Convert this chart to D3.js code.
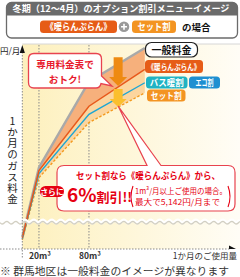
<!DOCTYPE html>
<html><head><meta charset="utf-8">
<script src="https://cdn.jsdelivr.net/npm/d3@7"></script>
<style>body{margin:0;background:#fff}svg{display:block}text{font-family:"Noto Sans CJK JP","Noto Sans",sans-serif}</style>
</head><body><svg id="c" width="240" height="277"></svg>
<script>
// ---- data (fee index; no numeric y axis in original) ----
const usage      = [0, 20, 80, 147];
const generalFee = [6, 40, 82, 98.5];
const danranFee  = [5.5, 38.5, 70, 88];
const bathFee    = [5, 37, 66, 81.5];
const setFee     = [4.5, 35, 62, 76.5];
const xTicks      = [20, 80];
const xTickLabels = ["20m³", "80m³"];
const xAxisTitle  = "1か月のご使用量";
const yAxisUnit   = "円/月";
const yAxisTitle  = "1か月のガス料金";
const titleText   = "冬期（12～4月）のオプション割引メニューイメージ";
const legendNames = ["一般料金", "《暖らんぷらん》", "バス暖割", "エコ割", "セット割"];
const footnote    = "※ 群馬地区は一般料金のイメージが異なります";

const svg = d3.select("#c");
const x = d3.scaleLinear().domain([0, 252]).range([22.3, 232.3]);
const y = d3.scaleLinear().domain([0, 100]).range([249, 45]);
const interp = s => d3.scaleLinear().domain(usage).range(s);

// ---- background ----
const defs = svg.append("defs");
const g1 = defs.append("linearGradient").attr("id","bg").attr("x1","0").attr("x2","1");
g1.append("stop").attr("offset","0").attr("stop-color","#fdf0bd");
g1.append("stop").attr("offset","1").attr("stop-color","#fffdf6");
svg.append("rect").attr("x",x(0)).attr("y",44).attr("width",240-x(0)).attr("height",249-44).attr("fill","url(#bg)");
svg.append("line").attr("x1",x(0)).attr("x2",240).attr("y1",44).attr("y2",44).attr("stroke","#d6d6d6").attr("stroke-width",1);

// dotted gridlines
svg.selectAll(".vg").data(xTicks).join("line")
  .attr("x1",d=>x(d)).attr("x2",d=>x(d)).attr("y1",45).attr("y2",249)
  .attr("stroke","#8a8a8a").attr("stroke-width",1).attr("stroke-dasharray","1.5,1.5");

// ---- bands ----
const pts = (hi, lo) => usage.map((u,i)=>({u, hi:hi[i], lo:lo[i]}));
const area = d3.area().x(d=>x(d.u)).y0(d=>y(d.lo)).y1(d=>y(d.hi));
svg.append("path").attr("d",area(pts(generalFee,danranFee))).attr("fill","#f6b07c");
svg.append("path").attr("d",area(pts(danranFee,setFee))).attr("fill","#fcd59e");

// ---- lines ----
const line = d3.line().x(d=>x(d.u)).y(d=>y(d.v));
const ser = s => usage.map((u,i)=>({u, v:s[i]}));
svg.append("path").attr("d",line(ser(generalFee))).attr("fill","none").attr("stroke","#a9a9a9").attr("stroke-width",2.4);
svg.append("path").attr("d",line(ser(setFee))).attr("fill","none").attr("stroke","#f39a1e").attr("stroke-width",1.4).attr("stroke-dasharray","2.5,1.8");
svg.append("path").attr("d",line(ser(bathFee))).attr("fill","none").attr("stroke","#1ea6d3").attr("stroke-width",1.4);
svg.append("path").attr("d",line(ser(danranFee))).attr("fill","none").attr("stroke","#e8581a").attr("stroke-width",1.5);

// ---- arrows ----
const au = 115, ax = x(au);
function arrow(top, tip, sw, hw, hh, col){
  const p = [[ax-sw/2,top],[ax+sw/2,top],[ax+sw/2,tip-hh],[ax+hw/2,tip-hh],[ax,tip],[ax-hw/2,tip-hh],[ax-sw/2,tip-hh]];
  svg.append("path").attr("d","M"+p.join("L")+"Z").attr("fill",col);
}
const gTop = y(interp(generalFee)(au)), oY = y(interp(danranFee)(au)), sY = y(interp(setFee)(au));
arrow(gTop-7, oY-1, 9, 18, 9, "#ee8a12");
arrow(oY+2, sY, 9, 17, 8, "#fbbf2e");

// ---- wavy break ----
const wave = d3.range(0, 241, 1).map(t=>[t, 221.5 + 1.3*Math.sin(t/9*2*Math.PI)]);
svg.append("path").attr("d",d3.line()(wave)).attr("fill","none").attr("stroke","#fff").attr("stroke-width",3.5);
svg.append("path").attr("d",d3.line()(wave.map(d=>[d[0],d[1]+1.2]))).attr("fill","none").attr("stroke","#d2cfc2").attr("stroke-width",1.3);

// ---- axes ----
svg.append("line").attr("x1",x(0)).attr("x2",x(0)).attr("y1",52).attr("y2",258)
  .attr("stroke","#8a8a8a").attr("stroke-dasharray","1.5,1.5");
svg.append("path").attr("d",`M${x(0)},45L${x(0)-2.6},53L${x(0)+2.6},53Z`).attr("fill","#111");
svg.append("line").attr("x1",0).attr("x2",231).attr("y1",249).attr("y2",249)
  .attr("stroke","#8a8a8a").attr("stroke-dasharray","1.5,1.5");
svg.append("path").attr("d","M229,245.5L236,249L229,249Z").attr("fill","#111");

svg.selectAll(".xl").data(xTicks).join("text")
  .attr("x",d=>x(d)+1).attr("y",259).attr("text-anchor","middle")
  .attr("font-size",8.5).attr("font-weight",700).attr("fill","#333").text((d,i)=>xTickLabels[i]);
svg.append("text").attr("x",237).attr("y",259).attr("text-anchor","end").attr("font-size",8.5).attr("fill","#333").text(xAxisTitle);
svg.append("text").attr("x",0).attr("y",53.5).attr("font-size",8.5).attr("fill","#222").text(yAxisUnit);
svg.append("text").attr("x",12.5).attr("y",116).attr("font-size",10.5).attr("fill","#222")
  .style("writing-mode","vertical-rl").style("text-orientation","upright")
  .attr("textLength",88).attr("lengthAdjust","spacing").text(yAxisTitle);

// ---- header ----
defs.append("clipPath").attr("id","hc").append("rect").attr("x",6.5).attr("y",2.5).attr("width",231).attr("height",35.5).attr("rx",5);
svg.append("rect").attr("x",6.5).attr("y",2.5).attr("width",231).attr("height",35.5).attr("rx",5).attr("fill","#fff");
svg.append("rect").attr("x",6).attr("y",2).attr("width",232).attr("height",13.5).attr("fill","#6b6b6b").attr("clip-path","url(#hc)");
svg.append("rect").attr("x",6.5).attr("y",2.5).attr("width",231).attr("height",35.5).attr("rx",5).attr("fill","none").attr("stroke","#6b6b6b").attr("stroke-width",1.3);
svg.append("text").attr("x",121).attr("y",12.4).attr("text-anchor","middle").attr("font-size",9).attr("font-weight",700)
  .attr("fill","#fff").attr("textLength",217).attr("lengthAdjust","spacingAndGlyphs").text(titleText);
function pill(x0,y0,w,h,fill,txt,fs,tl,stroke){
  svg.append("rect").attr("x",x0).attr("y",y0).attr("width",w).attr("height",h).attr("rx",3.5).attr("fill",fill)
    .attr("stroke",stroke||"none").attr("stroke-width",stroke?1.2:0);
  const t = svg.append("text").attr("x",x0+w/2).attr("y",y0+h/2+fs*0.36).attr("text-anchor","middle")
    .attr("font-size",fs).attr("font-weight",700).attr("fill",stroke?"#111":"#fff").text(txt);
  if(tl) t.attr("textLength",tl).attr("lengthAdjust","spacingAndGlyphs");
}
pill(40,20.5,77,12.5,"#e65c17",legendNames[1],9.5,66);
svg.append("circle").attr("cx",124).attr("cy",26.8).attr("r",5.3).attr("fill","#999");
svg.append("path").attr("d","M121,26.8H127M124,23.8V29.8").attr("stroke","#fff").attr("stroke-width",1.6);
pill(132,20.5,44,12.5,"#f39422",legendNames[4],9.5,33);
svg.append("text").attr("x",182).attr("y",30.5).attr("font-size",9.5).attr("font-weight",700).attr("fill","#111").text("の場合");

// ---- legend at line ends ----
svg.append("rect").attr("x",145.5).attr("y",42.5).attr("width",52).attr("height",14.5).attr("rx",6).attr("fill","#fff").attr("stroke","#222").attr("stroke-width",1.2);
svg.append("text").attr("x",171.5).attr("y",53.8).attr("text-anchor","middle").attr("font-size",10).attr("font-weight",700).attr("fill","#111").text(legendNames[0]);
pill(145,60,58,13,"#e65c17",legendNames[1],8.5,53);
pill(146,76.5,41.5,12,"#1fb3c3",legendNames[2],8.8,34);
pill(189,76.5,31,12,"#1e8fd1",legendNames[3],8.8,18);
pill(147,89.5,38.5,12,"#f39422",legendNames[4],8.8,31);

// ---- callout 1 ----
svg.append("path").attr("d","M34,53.5H96Q101.5,53.5 101.5,59V76L112,86L101,83.5Q100,88 96,88H34Q28.5,88 28.5,82.5V59Q28.5,53.5 34,53.5Z")
  .attr("fill","#fff").attr("stroke","#e8434f").attr("stroke-width",1.3);
const c1 = svg.append("text").attr("text-anchor","middle").attr("font-size",9.6).attr("font-weight",700).attr("fill","#e8192c");
c1.append("tspan").attr("x",65).attr("y",68).text("専用料金表で");
c1.append("tspan").attr("x",65).attr("y",82.5).text("おトク!");

// ---- callout 2 ----
const apx = ax, apy = sY - 1;
svg.append("path").attr("d",`M64,165.5H147L${apx},${apy}L161,165.5H228Q235,165.5 235,172.5V204Q235,211 228,211H64Q57,211 57,204V172.5Q57,165.5 64,165.5Z`)
  .attr("fill","#fff").attr("stroke","#e8434f").attr("stroke-width",1.2);
svg.append("text").attr("x",148).attr("y",178.5).attr("text-anchor","middle").attr("font-size",9.3).attr("font-weight",700).attr("fill","#e60012")
  .attr("textLength",144).attr("lengthAdjust","spacingAndGlyphs").text("セット割なら《暖らんぷらん》から、");
svg.append("rect").attr("x",40).attr("y",186).attr("width",24).attr("height",11).attr("rx",5.5).attr("fill","#e60012");
svg.append("text").attr("x",52).attr("y",194.5).attr("text-anchor","middle").attr("font-size",7.8).attr("font-weight",700).attr("fill","#fff").text("さらに");
const big = svg.append("text").attr("x",67).attr("y",201.5).attr("font-weight",700).attr("fill","#e60012");
big.append("tspan").attr("font-size",19).text("6%");
big.append("tspan").attr("font-size",13).text("割引!!");
// brackets drawn as paths
svg.append("path").attr("d","M133,186Q129,196.5 133,207").attr("fill","none").attr("stroke","#e60012").attr("stroke-width",1.1);
svg.append("path").attr("d","M228,186Q232,196.5 228,207").attr("fill","none").attr("stroke","#e60012").attr("stroke-width",1.1);
const note = svg.append("text").attr("font-size",8).attr("fill","#e60012");
note.append("tspan").attr("x",135).attr("y",194).attr("textLength",92).attr("lengthAdjust","spacingAndGlyphs").text("1m³/月以上ご使用の場合。");
note.append("tspan").attr("x",135).attr("y",205).attr("textLength",85).attr("lengthAdjust","spacingAndGlyphs").text("最大で5,142円/月まで");

// ---- footnote ----
svg.append("text").attr("x",0).attr("y",275).attr("font-size",10).attr("fill","#333")
  .attr("textLength",229).attr("lengthAdjust","spacingAndGlyphs").text(footnote);
</script></body></html>
